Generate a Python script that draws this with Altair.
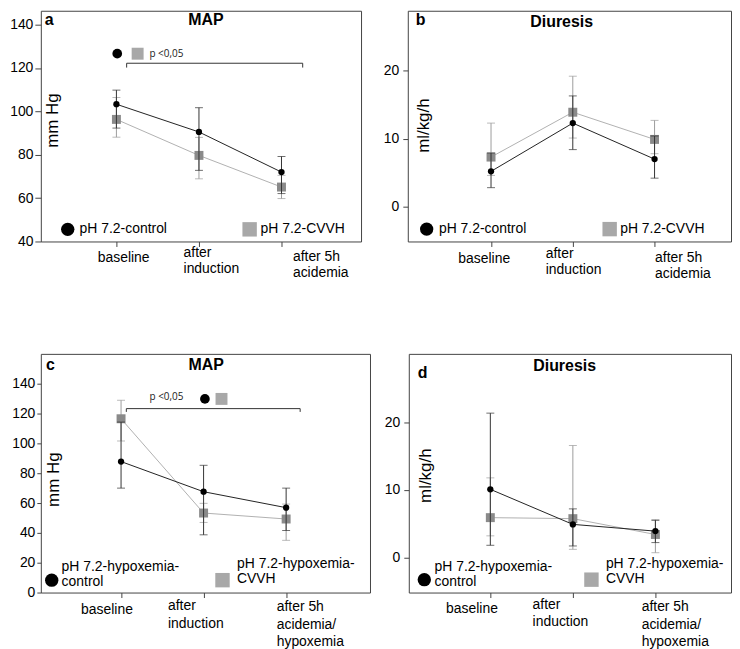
import json
import altair as alt
import pandas as pd

FONT = "Liberation Sans"
ANN_FONT = "Open Sans"

# ---------------- data ----------------
steps = [0, 1, 2]
labels_acid = ["baseline", "after\ninduction", "after 5h\nacidemia"]
labels_hyp = ["baseline", "after\ninduction", "after 5h\nacidemia/\nhypoxemia"]
legend_acid = ["pH 7.2-control", "pH 7.2-CVVH"]
legend_hyp = ["pH 7.2-hypoxemia-\ncontrol", "pH 7.2-hypoxemia-\nCVVH"]

# a: MAP, acidemia
a_ctrl_mean = [103.3, 90.5, 72.0]
a_ctrl_lo = [92.3, 72.8, 62.1]
a_ctrl_hi = [109.8, 101.7, 79.2]
a_cvvh_mean = [96.3, 79.7, 65.1]
a_cvvh_lo = [88.1, 68.9, 59.8]
a_cvvh_hi = [106.4, 88.0, 70.5]
# b: Diuresis, acidemia
b_ctrl_mean = [5.2, 12.3, 7.0]
b_ctrl_lo = [2.8, 8.4, 4.2]
b_ctrl_hi = [7.9, 16.3, 10.4]
b_cvvh_mean = [7.3, 13.9, 9.9]
b_cvvh_lo = [4.6, 10.1, 7.8]
b_cvvh_hi = [12.3, 19.2, 12.7]
# c: MAP, hypoxemia
c_ctrl_mean = [87.8, 67.6, 56.9]
c_ctrl_lo = [70.0, 38.7, 41.6]
c_ctrl_hi = [114.3, 85.3, 70.0]
c_cvvh_mean = [116.5, 53.3, 49.3]
c_cvvh_lo = [101.6, 47.0, 35.0]
c_cvvh_hi = [128.9, 59.8, 59.3]
# d: Diuresis, hypoxemia
d_ctrl_mean = [10.1, 4.9, 3.9]
d_ctrl_lo = [1.8, 1.7, 2.2]
d_ctrl_hi = [21.4, 7.2, 5.5]
d_cvvh_mean = [5.9, 5.75, 3.4]
d_cvvh_lo = [3.2, 1.2, 0.7]
d_cvvh_hi = [11.8, 16.6, 5.6]

# ---------------- styles ----------------
CTRL_LINE, CTRL_BAR, CTRL_PT = "#222222", "#333333", "#000000"
CVVH_LINE, CVVH_BAR, CVVH_PT = "#b0b0b0", "#9c9c9c", "#8a8a8a"
LEG_SQ = "#a8a8a8"


def cond(vals):
    return {"condition": [{"test": f"datum.value == {i}", "value": v} for i, v in enumerate(vals[:-1])],
            "value": vals[-1]}


def make_panel(p):
    xs = alt.Scale(domain=p["xdom"], nice=False, zero=False)
    ys = alt.Scale(domain=p["ydom"], nice=False, zero=False)
    lab_arr = [s.split("\n") for s in p["labels"]]
    xax = alt.Axis(values=steps, labelExpr=f"{json.dumps(lab_arr)}[datum.value]",
                   tickSize=5, labelAlign="left", labelBaseline="top",
                   labelOffset=cond(p["loff"]), labelPadding=cond(p["lpad"]),
                   labelLineHeight=p["lh"], labelFontSize=14, labelFlush=False,
                   labelOverlap=False, labelBound=False, domain=False, grid=False)
    yax = alt.Axis(values=p["yvals"], tickSize=p["ytick"], labelPadding=p["ypad"], labelFontSize=14,
                   labelOverlap=False, labelFlush=False, domain=False, grid=False,
                   minExtent=p["ext"], titleX=p["tx"], titleY=p["ty"], titleAngle=270,
                   titleAlign="center", titleBaseline="middle", titleFontSize=17,
                   titleFontWeight="normal")

    def X(f):
        return alt.X(f, type="quantitative", scale=xs, axis=xax, title=None)

    def Y(f):
        return alt.Y(f, type="quantitative", scale=ys, axis=yax, title=p["ytitle"])

    layers = []
    for mean, lo, hi, lc, bc, pc, shape, size in [
        (p["cv"][0], p["cv"][1], p["cv"][2], CVVH_LINE, CVVH_BAR, CVVH_PT, "square", 81),
        (p["ct"][0], p["ct"][1], p["ct"][2], CTRL_LINE, CTRL_BAR, CTRL_PT, "circle", 40),
    ]:
        df = pd.DataFrame({"x": steps, "mean": mean, "lo": lo, "hi": hi})
        base = alt.Chart(df)
        layers.append(base.mark_rule(color=bc, strokeWidth=1).encode(x=X("x"), y=Y("lo"), y2="hi"))
        layers.append(base.mark_tick(orient="horizontal", color=bc, size=8, thickness=1).encode(x=X("x"), y=Y("lo")))
        layers.append(base.mark_tick(orient="horizontal", color=bc, size=8, thickness=1).encode(x=X("x"), y=Y("hi")))
        layers.append(base.mark_line(color=lc, strokeWidth=1).encode(x=X("x"), y=Y("mean")))
        layers.append(base.mark_point(shape=shape, filled=True, size=size, color=pc, opacity=1)
                      .encode(x=X("x"), y=Y("mean")))

    # legend markers
    lg = p["leg"]
    layers.append(alt.Chart(pd.DataFrame({"x": [lg["cx"]], "y": [lg["my"]]}))
                  .mark_point(shape="circle", filled=True, size=180, color="#000", opacity=1)
                  .encode(x=X("x"), y=Y("y")))
    layers.append(alt.Chart(pd.DataFrame({"x": [lg["sx"]], "y": [lg["my"]]}))
                  .mark_point(shape="square", filled=True, size=210, color=LEG_SQ, opacity=1)
                  .encode(x=X("x"), y=Y("y")))
    layers.append(alt.Chart(pd.DataFrame({"x": [lg["ctx"], lg["stx"]], "y": [lg["cty"], lg["sty"]],
                                          "t": p["legtext"]}))
                  .mark_text(align="left", baseline="middle", font=FONT, fontSize=14, color="#000",
                             lineBreak="\n", lineHeight=15)
                  .encode(x=X("x"), y=Y("y"), text="t:N"))
    # panel letter and heading
    layers.append(alt.Chart(pd.DataFrame({"x": [p["let"][0]], "y": [p["let"][1]], "t": [p["let"][2]]}))
                  .mark_text(align="left", baseline="middle", font=FONT, fontSize=16, fontWeight="bold", color="#000")
                  .encode(x=X("x"), y=Y("y"), text="t:N"))
    layers.append(alt.Chart(pd.DataFrame({"x": [p["head"][0]], "y": [p["head"][1]], "t": [p["head"][2]]}))
                  .mark_text(align="center", baseline="middle", font=FONT, fontSize=16, fontWeight="bold", color="#000")
                  .encode(x=X("x"), y=Y("y"), text="t:N"))
    # significance annotation
    an = p.get("ann")
    if an:
        layers.append(alt.Chart(pd.DataFrame({"x": [an["b0"]], "x2": [an["b1"]], "y": [an["by"]]}))
                      .mark_rule(color="#333", strokeWidth=1)
                      .encode(x=X("x"), x2="x2", y=Y("y")))
        layers.append(alt.Chart(pd.DataFrame({"x": [an["b0"], an["b1"]], "y": [an["by"]] * 2,
                                              "y2": [an["bt"]] * 2}))
                      .mark_rule(color="#333", strokeWidth=1)
                      .encode(x=X("x"), y=Y("y"), y2="y2"))
        layers.append(alt.Chart(pd.DataFrame({"x": [an["cx"]], "y": [an["my"]]}))
                      .mark_point(shape="circle", filled=True, size=95, color="#000", opacity=1)
                      .encode(x=X("x"), y=Y("y")))
        layers.append(alt.Chart(pd.DataFrame({"x": [an["sx"]], "y": [an["my"]]}))
                      .mark_point(shape="square", filled=True, size=144, color=LEG_SQ, opacity=1)
                      .encode(x=X("x"), y=Y("y")))
        layers.append(alt.Chart(pd.DataFrame({"x": [an["tx"]], "y": [an["ty"]], "t": ["p <0,05"]}))
                      .mark_text(align="left", baseline="middle", font=ANN_FONT, fontSize=10, color="#222")
                      .encode(x=X("x"), y=Y("y"), text="t:N"))
    return alt.layer(*layers).properties(width=p["w"], height=p["h"])


pa = dict(w=322, h=232, xdom=[-0.916, 2.964], ydom=[40, 146.4], yvals=[40, 60, 80, 100, 120, 140],
          ytick=6, ypad=2, ext=32, tx=12, ty=110, ytitle="mm Hg", labels=labels_acid,
          loff=[-19.3, -16, 11], lpad=[3.7, -1, 3], lh=16,
          ct=(a_ctrl_mean, a_ctrl_lo, a_ctrl_hi), cv=(a_cvvh_mean, a_cvvh_lo, a_cvvh_hi),
          leg=dict(cx=-0.59, sx=1.614, my=45.6, ctx=-0.446, cty=45.6, stx=1.747, sty=45.6),
          legtext=legend_acid, let=(-0.867, 142.2, "a"), head=(1.084, 142.2, "MAP"),
          ann=dict(b0=0.124, b1=2.257, by=122.2, bt=120.2, cx=0.01, sx=0.257, my=126.6, tx=0.40, ty=126.6))
pb = dict(w=325, h=232, xdom=[-1.018, 2.935], ydom=[-5.12, 28.83], yvals=[0, 10, 20],
          ytick=5, ypad=4, ext=25, tx=16, ty=115, ytitle="ml/kg/h", labels=labels_acid,
          loff=[-33.4, -27.7, 0], lpad=[4.7, 0.3, 4], lh=16,
          ct=(b_ctrl_mean, b_ctrl_lo, b_ctrl_hi), cv=(b_cvvh_mean, b_cvvh_lo, b_cvvh_hi),
          leg=dict(cx=-0.787, sx=1.451, my=-3.3, ctx=-0.637, cty=-3.3, stx=1.58, sty=-3.3),
          legtext=legend_acid, let=(-0.92, 27.5, "b"), head=(0.864, 27.2, "Diuresis"))
pc = dict(w=331, h=240, xdom=[-0.972, 3.016], ydom=[0, 160], yvals=[0, 20, 40, 60, 80, 100, 120, 140],
          ytick=4, ypad=2, ext=32, tx=13, ty=126, ytitle="mm Hg", labels=labels_hyp,
          loff=[-40.7, -36.3, -10], lpad=[4.6, 1.3, 2.3], lh=17.5,
          ct=(c_ctrl_mean, c_ctrl_lo, c_ctrl_hi), cv=(c_cvvh_mean, c_cvvh_lo, c_cvvh_hi),
          leg=dict(cx=-0.84, sx=1.229, my=8.3, ctx=-0.72, cty=17.3, stx=1.405, sty=18.9),
          legtext=legend_hyp, let=(-0.91, 152.7, "c"), head=(1.03, 152.7, "MAP"),
          ann=dict(b0=0.064, b1=2.17, by=123.3, bt=121.1, cx=1.016, sx=1.217, my=129.8, tx=0.345, ty=130.9))
pd_ = dict(w=324, h=240, xdom=[-0.988, 2.916], ydom=[-5.21, 30.19], yvals=[0, 10, 20],
           ytick=5, ypad=4, ext=25, tx=17, ty=122, ytitle="ml/kg/h", labels=labels_hyp,
           loff=[-45, -41, -14.3], lpad=[3.6, 0, 2.3], lh=17.5,
           ct=(d_ctrl_mean, d_ctrl_lo, d_ctrl_hi), cv=(d_cvvh_mean, d_cvvh_lo, d_cvvh_hi),
           leg=dict(cx=-0.80, sx=1.225, my=-3.3, ctx=-0.675, cty=-1.37, stx=1.40, sty=-1.03),
           legtext=legend_hyp, let=(-0.88, 27.4, "d"), head=(0.90, 28.4, "Diuresis"))

row1 = alt.hconcat(make_panel(pa), make_panel(pb), spacing=20)
row2 = alt.hconcat(make_panel(pc), make_panel(pd_), spacing=12)
chart = (alt.vconcat(row1, row2, spacing=72)
         .properties(padding=0)
         .configure_view(stroke="#444444", strokeWidth=1)
         .configure_axis(labelFont=FONT, titleFont=FONT, labelColor="#000", titleColor="#000",
                         tickColor="#444444", tickWidth=1))

chart.save("out.html", embed_options={"renderer": "svg", "actions": False})
